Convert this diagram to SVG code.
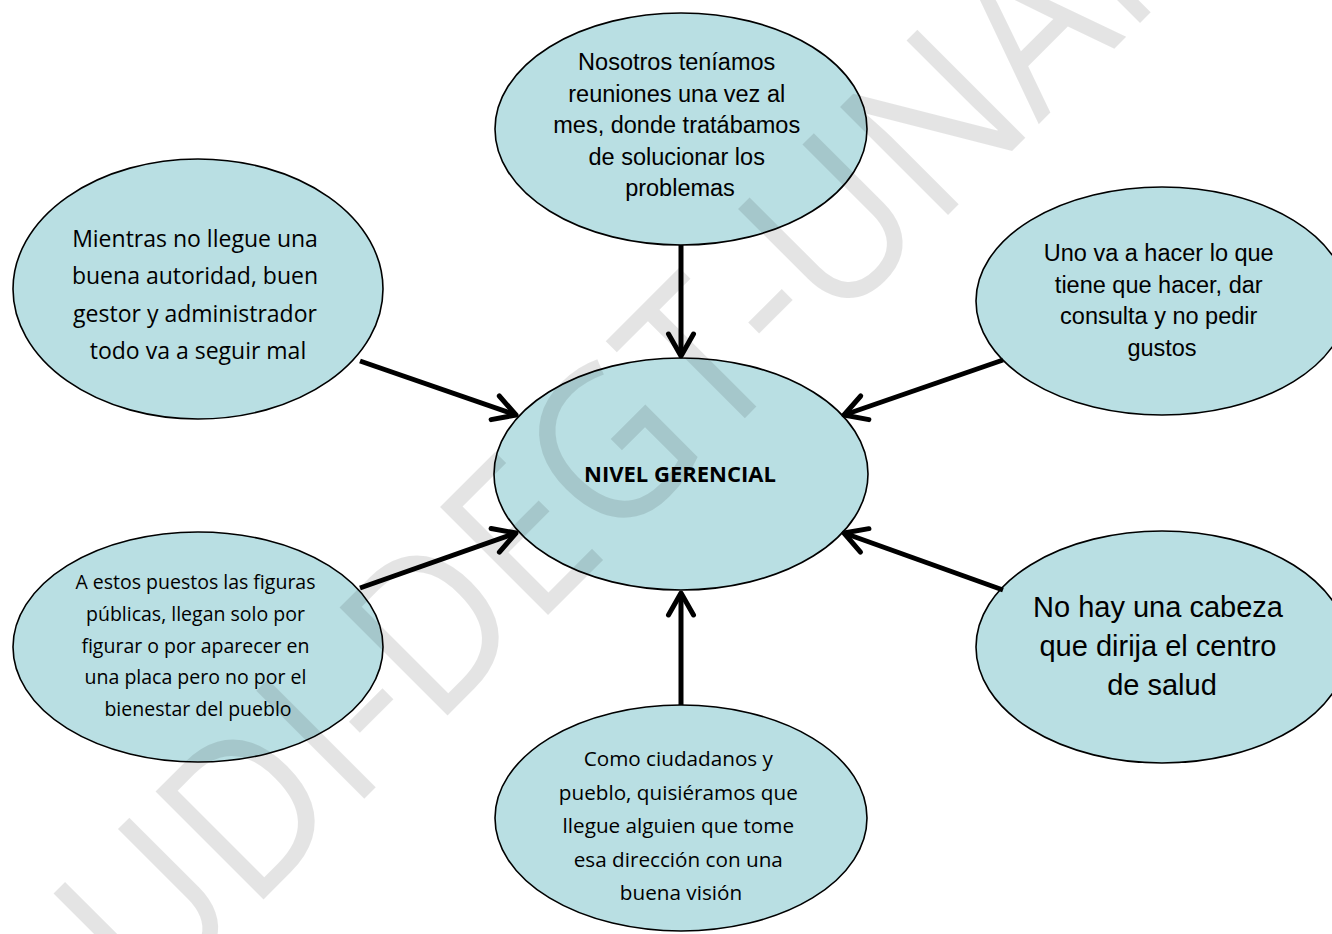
<svg xmlns="http://www.w3.org/2000/svg" width="1332" height="934" viewBox="0 0 1332 934">
  <defs>
    <style>
      .node ellipse { fill: #b9dfe3; stroke: #000; stroke-width: 1.6; }
      .arial { font-family: "Liberation Sans", Arial, sans-serif; fill: #000; text-anchor: middle; }
      .calib { font-family: "Open Sans", "Liberation Sans", sans-serif; fill: #000; text-anchor: middle; }
      .edge { fill: none; stroke: #000; stroke-width: 5; marker-end: url(#chev); }
      .mark { font-family: "Open Sans", "Liberation Sans", sans-serif; font-size: 214px; fill: #000; fill-opacity: 0.105; }
    </style>
    <marker id="chev" markerUnits="userSpaceOnUse" orient="auto" overflow="visible" markerWidth="1" markerHeight="1" refX="0" refY="0">
      <path d="M-22,-12.5 L0,0 L-22,12.5" fill="none" stroke="#000" stroke-width="5" stroke-linecap="round" stroke-linejoin="round"/>
    </marker>
  </defs>

  <rect width="1332" height="934" fill="#fff"/>

  <!-- nodes -->
  <g id="node-reuniones" class="node">
    <ellipse cx="681" cy="129" rx="186" ry="116"/>
    <text class="arial" font-size="23.5">
      <tspan x="680" y="70">Nosotros teníamos</tspan>
      <tspan x="680" y="101.5">reuniones una vez al</tspan>
      <tspan x="680" y="133">mes, donde tratábamos</tspan>
      <tspan x="680" y="164.5">de solucionar los</tspan>
      <tspan x="680" y="196">problemas</tspan>
    </text>
  </g>

  <g id="node-autoridad" class="node">
    <ellipse cx="198" cy="289" rx="185" ry="130"/>
    <text class="calib" font-size="23">
      <tspan x="198" y="247">Mientras no llegue una</tspan>
      <tspan x="198" y="284.3">buena autoridad, buen</tspan>
      <tspan x="198" y="321.6">gestor y administrador</tspan>
      <tspan x="198" y="359">todo va a seguir mal</tspan>
    </text>
  </g>

  <g id="node-consulta" class="node">
    <ellipse cx="1162" cy="301" rx="186" ry="114"/>
    <text class="arial" font-size="23.5">
      <tspan x="1162" y="261">Uno va a hacer lo que</tspan>
      <tspan x="1162" y="292.5">tiene que hacer, dar</tspan>
      <tspan x="1162" y="324">consulta y no pedir</tspan>
      <tspan x="1162" y="355.5">gustos</tspan>
    </text>
  </g>

  <g id="node-nivel-gerencial" class="node">
    <ellipse cx="681" cy="474" rx="187" ry="116"/>
    <text class="calib" font-size="22" font-weight="700" x="680" y="482">NIVEL GERENCIAL</text>
  </g>

  <g id="node-figuras" class="node">
    <ellipse cx="198" cy="647" rx="185" ry="115"/>
    <text class="calib" font-size="19.5">
      <tspan x="198" y="589">A estos puestos las figuras</tspan>
      <tspan x="198" y="620.8">públicas, llegan solo por</tspan>
      <tspan x="198" y="652.6">figurar o por aparecer en</tspan>
      <tspan x="198" y="684.4">una placa pero no por el</tspan>
      <tspan x="198" y="716.2">bienestar del pueblo</tspan>
    </text>
  </g>

  <g id="node-cabeza" class="node">
    <ellipse cx="1162" cy="647" rx="186" ry="116"/>
    <text class="arial" font-size="29">
      <tspan x="1162" y="617">No hay una cabeza</tspan>
      <tspan x="1162" y="656">que dirija el centro</tspan>
      <tspan x="1162" y="694.5">de salud</tspan>
    </text>
  </g>

  <g id="node-ciudadanos" class="node">
    <ellipse cx="681" cy="818" rx="186" ry="113"/>
    <text class="calib" font-size="20.7">
      <tspan x="681" y="766">Como ciudadanos y</tspan>
      <tspan x="681" y="799.5">pueblo, quisiéramos que</tspan>
      <tspan x="681" y="833">llegue alguien que tome</tspan>
      <tspan x="681" y="866.5">esa dirección con una</tspan>
      <tspan x="681" y="900">buena visión</tspan>
    </text>
  </g>

  <!-- connectors: every outer idea points at the centre -->
  <g id="connectors">
    <path class="edge" d="M681,245 L681,356"/>
    <path class="edge" d="M360,361 L516,415"/>
    <path class="edge" d="M1003,360 L844,415"/>
    <path class="edge" d="M360,588 L516,533"/>
    <path class="edge" d="M1003,590 L844,533"/>
    <path class="edge" d="M681,705 L681,593"/>
  </g>

  <!-- diagonal repository stamp across the page -->
  <text class="mark" transform="translate(149 1014) rotate(-45)" x="0" y="0" textLength="1530" lengthAdjust="spacingAndGlyphs">UDI-DEGT-UNAN</text>
</svg>
